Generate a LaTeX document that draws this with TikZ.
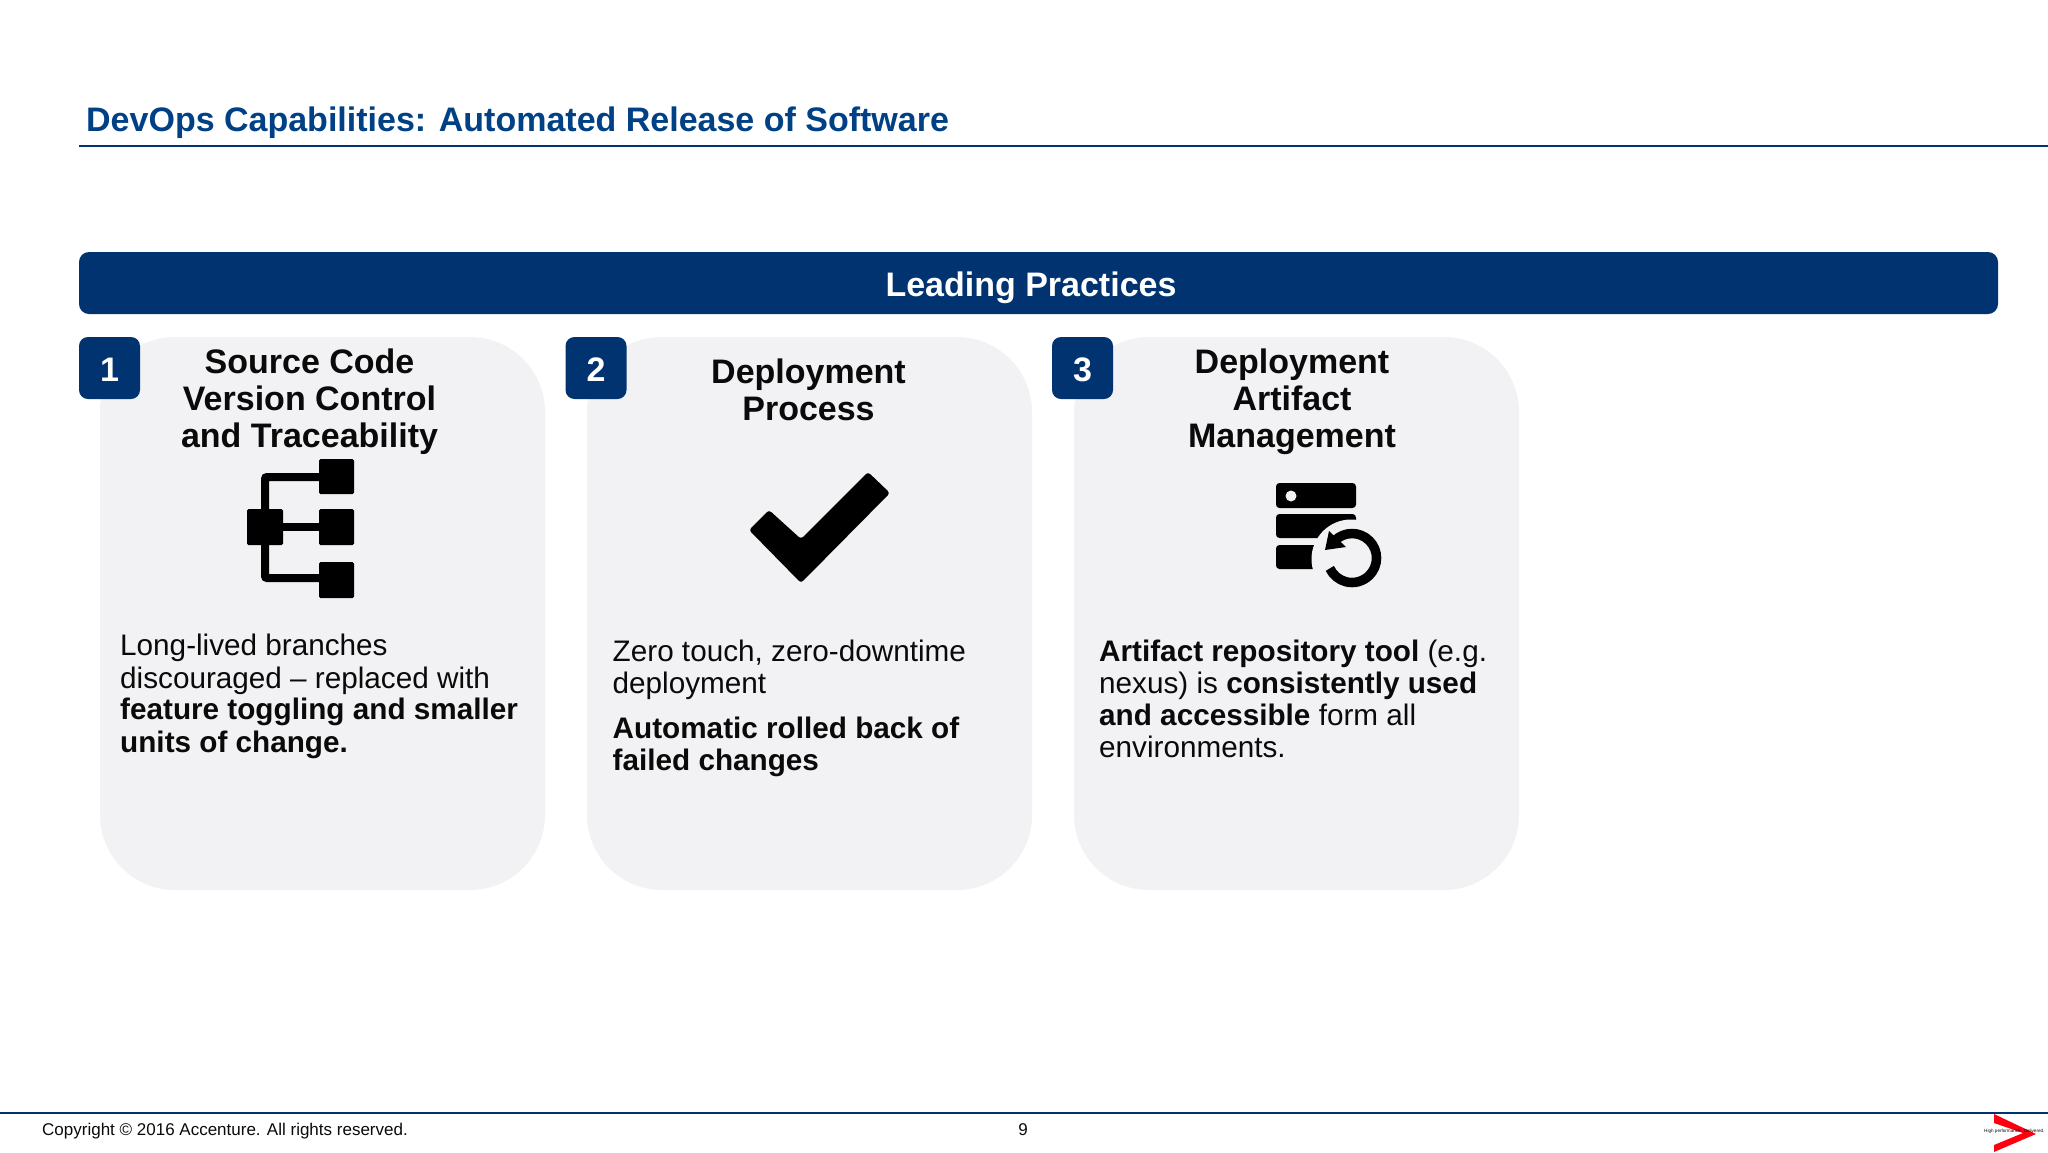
\documentclass[tikz,border=0pt]{standalone}
\usepackage{fontspec}
\setmainfont{Liberation Sans}
\definecolor{navy}{HTML}{003370}
\definecolor{titleblue}{HTML}{004085}
\definecolor{cardgrey}{HTML}{F2F2F4}
\definecolor{ink}{HTML}{0A0A0A}
\definecolor{logored}{HTML}{FF0010}
\tikzset{
  cardbox/.style={fill=cardgrey,draw=none,rounded corners=75pt,inner sep=0,minimum width=#1,minimum height=553pt},
  badge/.style={fill=navy,draw=none,rounded corners=9pt,inner sep=0,minimum width=61pt,minimum height=62pt},
  badgenum/.style={anchor=base,inner sep=0,text=white,font=\fontsize{34}{38}\selectfont\bfseries},
  headline/.style={anchor=base,inner sep=0,align=center,text=ink,font=\fontsize{34}{37}\selectfont\bfseries},
  bodytext/.style={anchor=base west,inner sep=0,align=left,text=ink,font=\fontsize{29.7}{32}\selectfont},
  iconfill/.style={fill=black,draw=none,rounded corners=1.5pt},
  footertext/.style={anchor=base,inner sep=0,text=ink,font=\fontsize{17}{20}\selectfont}
}
\begin{document}
\begin{tikzpicture}[x=1pt,y=-1pt]
\useasboundingbox (0,0) rectangle (2048,1152);
% title
\node[anchor=base west,inner sep=0,text=titleblue,font=\fontsize{34}{40}\selectfont\bfseries] (title) at (86,131) {DevOps Capabilities: Automated Release of Software};
\coordinate (ruleA) at (79,146);
\coordinate (ruleB) at (2048,146);
\draw[navy,line width=2pt] (ruleA) -- (ruleB);
% banner
\fill[navy,rounded corners=10pt] (79,252) rectangle (1998,314);
\node[inner sep=0,text=white,font=\fontsize{34}{38}\selectfont\bfseries,anchor=base] (banner) at (1031,296) {Leading Practices};
% cards
\node[cardbox=445pt] (card1) at (322.5,613.5) {};
\node[cardbox=445pt] (card2) at (809.5,613.5) {};
\node[cardbox=445pt] (card3) at (1296.5,613.5) {};
% badges
\node[badge] (b1) at (109.5,368) {};
\node[badge] (b2) at (596,368) {};
\node[badge] (b3) at (1082.5,368) {};
\node[badgenum] (n1) at (109.5,381) {1};
\node[badgenum] (n2) at (596,381) {2};
\node[badgenum] (n3) at (1082.5,381) {3};
% headings
\node[headline] (h1a) at (309.5,373) {Source Code};
\node[headline] (h1b) at (309.5,410) {Version Control};
\node[headline] (h1c) at (309.5,447) {and Traceability};
\node[headline] (h2a) at (808.5,383) {Deployment};
\node[headline] (h2b) at (808.5,420) {Process};
\node[headline] (h3a) at (1292,373) {Deployment};
\node[headline] (h3b) at (1292,410) {Artifact};
\node[headline] (h3c) at (1292,447) {Management};
% icon 1: hierarchy
\draw[black,line width=8pt,rounded corners=2pt] (325,477) -- (265,477) -- (265,578) -- (325,578);
\draw[black,line width=8pt] (283,527) -- (319,527);
\fill[iconfill] (319,459) rectangle (354,494);
\fill[iconfill] (319,509) rectangle (354,545);
\fill[iconfill] (247,509) rectangle (283,545);
\fill[iconfill] (319,562) rectangle (354,598);
% icon 2: check mark
\fill[black,rounded corners=3pt] (868,472) -- (890,493) -- (801,583) -- (749,530) -- (769,510) -- (801,539) -- cycle;
% icon 3: server with undo arrow
\fill[black,rounded corners=3.5pt] (1276,483) rectangle (1356,508);
\fill[black,rounded corners=3.5pt] (1276,514) rectangle (1356,538);
\fill[black,rounded corners=3.5pt] (1276,545) rectangle (1345,569);
\fill[cardgrey] (1291,496) circle (5.5pt);
\fill[cardgrey] (1351,559) circle (39.5pt);
\draw[black,line width=9.5pt] (1334.7,540.7) arc[start angle=135,end angle=-155,radius=24.5pt];
\fill[black] (1329,531) -- (1325,550) -- (1346,547) -- cycle;
% body text
\node[bodytext] (t1a) at (120,655) {Long-lived branches};
\node[bodytext] (t1b) at (120,688) {discouraged – replaced with};
\node[bodytext] (t1c) at (120,719) {\bfseries feature toggling and smaller};
\node[bodytext] (t1d) at (120,752) {\bfseries units of change.};
\node[bodytext] (t2a) at (612.5,661) {Zero touch, zero-downtime};
\node[bodytext] (t2b) at (612.5,693) {deployment};
\node[bodytext] (t2c) at (612.5,738) {\bfseries Automatic rolled back of};
\node[bodytext] (t2d) at (612.5,770) {\bfseries failed changes};
\node[bodytext] (t3a) at (1099,661) {\textbf{Artifact repository tool} (e.g.};
\node[bodytext] (t3b) at (1099,693) {nexus) is \textbf{consistently used}};
\node[bodytext] (t3c) at (1099,725) {\textbf{and accessible} form all};
\node[bodytext] (t3d) at (1099,757) {environments.};
% footer
\coordinate (footA) at (0,1113);
\coordinate (footB) at (2048,1113);
\draw[navy,line width=2pt] (footA) -- (footB);
\node[footertext,anchor=base west] (copy) at (42,1135) {Copyright © 2016 Accenture. All rights reserved.};
\node[footertext] (page) at (1023,1135) {9};
\fill[logored] (1994,1114) -- (2036,1134) -- (1994,1152) -- (1994,1145) -- (2023,1133) -- (1994,1123) -- cycle;
\node[anchor=west,inner sep=0,text=ink,font=\fontsize{4.6}{6}\selectfont] (tag) at (1984,1131) {High performance. Delivered.};
\end{tikzpicture}
\end{document}
